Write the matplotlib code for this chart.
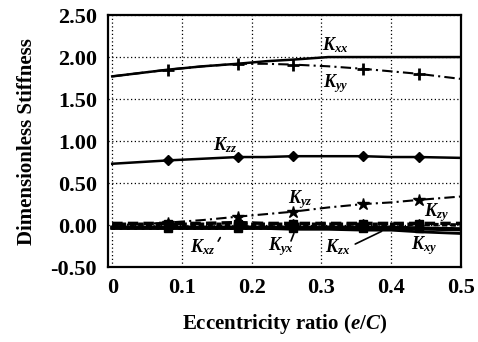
import matplotlib.pyplot as plt

# eccentricity ratio samples, markers drawn at every other point
ecc = [0, 0.04, 0.08, 0.13, 0.18, 0.22, 0.26, 0.31, 0.36, 0.40, 0.44, 0.50]
mark_idx = [2, 4, 6, 8, 10]

k_xx = [1.77, 1.81, 1.85, 1.89, 1.92, 1.95, 1.97, 2.00, 2.00, 2.00, 2.00, 2.00]
k_yy = [1.77, 1.81, 1.85, 1.89, 1.92, 1.92, 1.91, 1.89, 1.86, 1.83, 1.80, 1.74]
k_zz = [0.73, 0.75, 0.77, 0.79, 0.81, 0.81, 0.82, 0.82, 0.82, 0.81, 0.81, 0.80]
k_yz = [0.00, 0.01, 0.03, 0.06, 0.10, 0.13, 0.16, 0.21, 0.25, 0.27, 0.30, 0.34]
k_zy = [0.02, 0.02, 0.02, 0.02, 0.03, 0.02, 0.02, 0.02, 0.02, 0.02, 0.02, 0.02]
k_xz = [0.01, 0.01, 0.01, 0.01, 0.01, 0.01, 0.01, 0.01, 0.01, 0.01, 0.01, 0.00]
k_yx = [-0.03, -0.03, -0.03, -0.03, -0.03, -0.03, -0.03, -0.03, -0.03, -0.03, -0.04, -0.05]
k_zx = [-0.04, -0.04, -0.04, -0.04, -0.04, -0.04, -0.05, -0.05, -0.06, -0.06, -0.08, -0.10]
k_xy = [-0.04, -0.04, -0.04, -0.04, -0.04, -0.04, -0.04, -0.04, -0.04, -0.04, -0.04, -0.05]

x_ticks = [0, 0.1, 0.2, 0.3, 0.4, 0.5]
x_ticklabels = ['0', '0.1', '0.2', '0.3', '0.4', '0.5']
y_ticks = [-0.5, 0.0, 0.5, 1.0, 1.5, 2.0, 2.5]

plt.rcParams['font.family'] = 'Liberation Serif'
plt.rcParams['font.weight'] = 'bold'
plt.rcParams['mathtext.fontset'] = 'custom'
plt.rcParams['mathtext.it'] = 'Liberation Serif:italic:bold'
plt.rcParams['mathtext.rm'] = 'Liberation Serif:bold'

fig = plt.figure(figsize=(4.78, 3.42), dpi=100)
ax = fig.add_axes([0.226, 0.219, 0.738, 0.737])

ax.plot(ecc, k_xx, color='black', lw=1.8)
ax.plot(ecc, k_yy, color='black', lw=1.5, ls=(0, (5, 2, 1, 2)), marker='+', ms=8, mew=2, markevery=mark_idx)
ax.plot(ecc, k_zz, color='black', lw=1.8, marker='D', ms=5, markevery=mark_idx)
ax.plot(ecc, k_yz, color='black', lw=1.5, ls=(0, (5, 2, 1, 2)), marker='*', ms=9, markevery=mark_idx)
ax.plot(ecc, k_zy, color='black', lw=2.5, ls=(0, (3, 1.5)), marker='^', ms=6, markevery=mark_idx)
ax.plot(ecc, k_xz, color='black', lw=2.5, ls=(0, (1.5, 1)), marker='s', ms=6, markevery=mark_idx)
ax.plot(ecc, k_yx, color='black', lw=3)
ax.plot(ecc, k_zx, color='black', lw=2)
ax.plot(ecc, k_xy, color='black', lw=2, ls=':', marker='s', ms=6, markevery=mark_idx)

ax.set_xlim(-0.006, 0.5)
ax.set_ylim(-0.5, 2.5)
ax.set_xticks(x_ticks)
ax.set_xticklabels(x_ticklabels)
ax.set_yticks(y_ticks)
ax.set_yticklabels(['%.2f' % v for v in y_ticks])
ax.tick_params(length=0, labelsize=16, pad=8)
ax.grid(True, color='black', ls=(0, (1, 2)), lw=0.9)
for s in ax.spines.values():
    s.set_linewidth(1.6)

ax.set_xlabel('Eccentricity ratio ($e$/$C$)', fontsize=15, fontweight='bold', labelpad=10)
ax.set_ylabel('Dimensionless Stiffness', fontsize=15, fontweight='bold', labelpad=10)

lab = dict(fontsize=13, va='center', ha='left')
ax.text(0.301, 2.14, '$K_{xx}$', **lab)
ax.text(0.303, 1.69, '$K_{yy}$', **lab)
ax.text(0.145, 0.95, '$K_{zz}$', **lab)
ax.text(0.252, 0.30, '$K_{yz}$', **lab)
ax.text(0.447, 0.15, '$K_{zy}$', **lab)
ax.text(0.112, -0.26, '$K_{xz}$', **lab)
ax.text(0.224, -0.26, '$K_{yx}$', **lab)
ax.text(0.305, -0.26, '$K_{zx}$', **lab)
ax.text(0.428, -0.24, '$K_{xy}$', **lab)

arrow = dict(arrowstyle='-', color='black', lw=1.2)
ax.annotate('', xy=(0.157, -0.12), xytext=(0.15, -0.22), arrowprops=arrow)
ax.annotate('', xy=(0.262, -0.07), xytext=(0.255, -0.22), arrowprops=arrow)
ax.annotate('', xy=(0.39, -0.06), xytext=(0.345, -0.24), arrowprops=arrow)

fig.savefig('out.png', dpi=100)
